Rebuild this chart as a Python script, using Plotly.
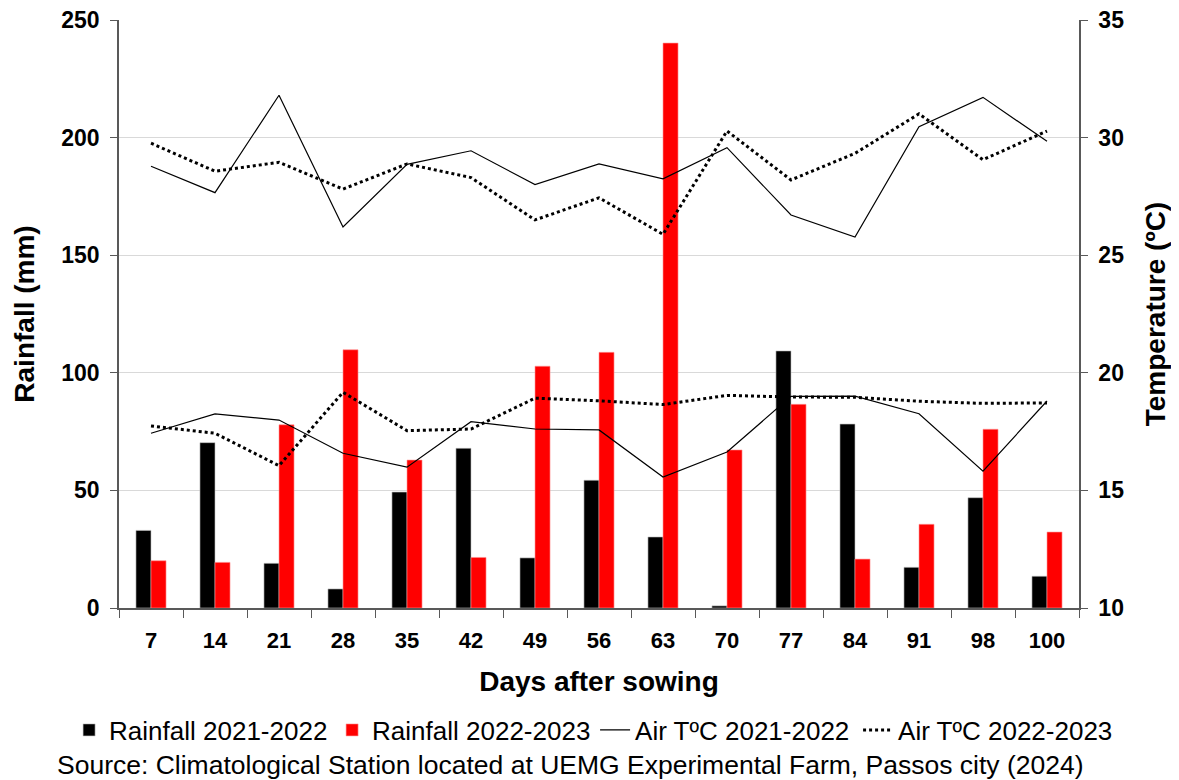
import plotly.graph_objects as go

days = ["7", "14", "21", "28", "35", "42", "49", "56", "63", "70", "77", "84", "91", "98", "100"]
rain_2122 = [33, 70.3, 19, 8.1, 49.3, 67.9, 21.3, 54.3, 30.2, 0.9, 109.3, 78.2, 17.3, 46.9, 13.5]
rain_2223 = [20.1, 19.4, 77.9, 109.8, 62.9, 21.5, 102.8, 108.7, 240.2, 67.2, 86.6, 20.8, 35.6, 76.0, 32.3]
tmax_2122 = [28.78, 27.66, 31.80, 26.20, 28.86, 29.44, 28.00, 28.88, 28.25, 29.57, 26.71, 25.77, 30.46, 31.71, 29.84]
tmax_2223 = [29.76, 28.57, 28.95, 27.81, 28.88, 28.30, 26.50, 27.44, 25.89, 30.28, 28.20, 29.33, 31.01, 29.06, 30.28]
tmin_2122 = [17.43, 18.25, 17.99, 16.58, 15.99, 17.92, 17.61, 17.57, 15.57, 16.63, 19.0, 19.01, 18.26, 15.82, 18.80]
tmin_2223 = [17.74, 17.43, 16.05, 19.17, 17.54, 17.61, 18.92, 18.81, 18.65, 19.04, 18.97, 18.96, 18.79, 18.70, 18.72]

FONT = "Arial, Liberation Sans, sans-serif"
AXC = "#595959"

fig = go.Figure()
fig.add_trace(go.Bar(x=days, y=rain_2122, name="Rainfall 2021-2022",
                     marker=dict(color="#000000", line=dict(color="#bfbfbf", width=0.6))))
fig.add_trace(go.Bar(x=days, y=rain_2223, name="Rainfall 2022-2023",
                     marker=dict(color="#ff0000", line=dict(color="#ff9999", width=0.6))))
fig.add_trace(go.Scatter(x=days, y=tmax_2122, name="Air TºC 2021-2022", mode="lines",
                         line=dict(color="black", width=1.2), yaxis="y2"))
fig.add_trace(go.Scatter(x=days, y=tmax_2223, name="Air TºC 2022-2023", mode="lines",
                         line=dict(color="black", width=3, dash="dot"), yaxis="y2"))
fig.add_trace(go.Scatter(x=days, y=tmin_2122, name="Air TºC 2021-2022", mode="lines",
                         line=dict(color="black", width=1.2), yaxis="y2", showlegend=False))
fig.add_trace(go.Scatter(x=days, y=tmin_2223, name="Air TºC 2022-2023", mode="lines",
                         line=dict(color="black", width=3, dash="dot"), yaxis="y2", showlegend=False))

fig.update_layout(
    width=1171, height=772,
    margin=dict(l=111, r=100, t=12, b=172),
    paper_bgcolor="white", plot_bgcolor="white",
    font=dict(family=FONT, color="black"),
    barmode="group", bargap=0.53, bargroupgap=0,
    showlegend=True,
    legend=dict(orientation="h", x=-0.052, xanchor="left", y=-0.2075, yanchor="middle",
                font=dict(size=26, family=FONT), traceorder="normal",
                itemwidth=30, entrywidth=218, entrywidthmode="pixels", tracegroupgap=0),
    xaxis=dict(
        type="category", automargin=False, showline=True, linecolor=AXC, linewidth=1.5,
        ticks="outside", ticklen=8, tickcolor=AXC, tickson="boundaries",
        tickfont=dict(size=22, family=FONT, weight="bold"), ticklabelstandoff=12,
        title=dict(text="<b>Days after sowing</b>", font=dict(size=28, family=FONT), standoff=19),
        showgrid=False,
    ),
    yaxis=dict(
        range=[0, 250], tickvals=[0, 50, 100, 150, 200, 250], automargin=False,
        showline=True, linecolor=AXC, linewidth=1.5,
        ticks="outside", ticklen=7, tickcolor=AXC,
        tickfont=dict(size=23, family=FONT, weight="bold"), ticklabelstandoff=6,
        ticklabeloverflow="allow",
        showgrid=True, gridcolor="#d9d9d9", gridwidth=1,
        zeroline=False,
        title=dict(text="<b>Rainfall (mm)</b>", font=dict(size=28, family=FONT), standoff=18),
    ),
    yaxis2=dict(
        range=[10, 35], tickvals=[10, 15, 20, 25, 30, 35], automargin=False,
        overlaying="y", side="right",
        showline=True, linecolor=AXC, linewidth=1.5,
        ticks="outside", ticklen=7, tickcolor=AXC,
        tickfont=dict(size=23, family=FONT, weight="bold"), ticklabelstandoff=6,
        ticklabeloverflow="allow",
        showgrid=False, zeroline=False,
        title=dict(text="<b>Temperature (ºC)</b>", font=dict(size=28, family=FONT), standoff=22),
    ),
    annotations=[dict(
        text="Source: Climatological Station located at UEMG Experimental Farm, Passos city (2024)",
        xref="paper", yref="paper", x=0.47, y=-0.267, xanchor="center", yanchor="middle",
        showarrow=False, font=dict(size=26.5, family=FONT, color="black"))],
)

fig.write_html("out.html")
